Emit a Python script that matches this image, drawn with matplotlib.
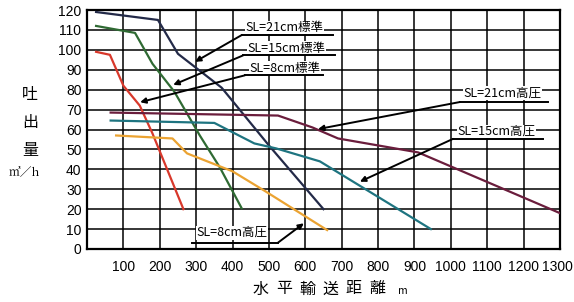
# -*- coding: utf-8 -*-
"""
水平輸送距離と吐出量の関係（SL別・標準／高圧）
"""
import matplotlib
matplotlib.use('Agg')
import matplotlib.pyplot as plt
import matplotlib.transforms as mtransforms

plt.rcParams['font.family'] = ['Noto Sans CJK JP', 'DejaVu Sans']

# 水平輸送距離 m と 吐出量 m3/h
std21_x = [25, 195, 250, 370, 500, 650]
std21_y = [119, 115, 98, 81, 52, 20]
std15_x = [25, 132, 180, 240, 310, 365, 425]
std15_y = [112, 108.5, 93, 79, 57, 41, 20.5]
std8_x = [25, 63, 100, 145, 180, 265]
std8_y = [99, 97.5, 82, 72, 58, 20]
hp21_x = [65, 525, 620, 690, 910, 1300]
hp21_y = [68.5, 67, 61, 55.5, 48.5, 18]
hp15_x = [65, 350, 460, 520, 640, 945]
hp15_y = [64.5, 63.3, 53, 50.5, 44, 10]
hp8_x = [80, 235, 275, 400, 490, 660]
hp8_y = [57, 55.5, 48, 39, 29, 9.5]

x_ticks = list(range(100, 1301, 100))
y_ticks = list(range(0, 121, 10))

series = [
    (std21_x, std21_y, '#232a48'),
    (std15_x, std15_y, '#2f6a33'),
    (std8_x, std8_y, '#d8382b'),
    (hp21_x, hp21_y, '#6a1d3c'),
    (hp15_x, hp15_y, '#1e7480'),
    (hp8_x, hp8_y, '#eba332'),
]

# ラベル: 文字, 文字位置, 下線(x0, x1, y), 矢印先
labels = [
    ('SL=21cm標準', (436, 111.2), (426, 676, 107.5), (297, 94)),
    ('SL=15cm標準', (442, 100.8), (429, 681, 97.2), (237, 82.4)),
    ('SL=8cm標準', (447, 90.8), (434, 648, 87.2), (146, 73.7)),
    ('SL=21cm高圧', (1035, 78.4), (1025, 1266, 73.8), (635, 60.2)),
    ('SL=15cm高圧', (1018, 59.0), (1006, 1253, 55.3), (750, 33.8)),
]

fig = plt.figure(figsize=(5.74, 3.02), dpi=100)
ax = fig.add_axes([87 / 574, 1 - 249 / 302, 473 / 574, 239 / 302])

for xs, ys, c in series:
    ax.plot(xs, ys, color=c, lw=1.6, zorder=3, solid_joinstyle='round')

ax.set_xlim(0, 1300)
ax.set_ylim(0, 120)
ax.set_xticks(x_ticks)
ax.set_yticks(y_ticks)
ax.grid(True, color='black', lw=1.1, zorder=1)
ax.set_axisbelow(True)
for s in ax.spines.values():
    s.set_linewidth(1.6)
ax.tick_params(length=0)
ax.tick_params(axis='x', pad=8)
ax.tick_params(axis='y', pad=4)
for t in ax.get_xticklabels() + ax.get_yticklabels():
    t.set_family('Liberation Sans')
    t.set_fontsize(10)
# 右端の 1300 が切れないよう少し左へ
last = ax.get_xticklabels()[-1]
last.set_transform(last.get_transform() +
                   mtransforms.ScaledTranslation(-3 / 100, 0, fig.dpi_scale_trans))

for text, (tx, ty), (u0, u1, uy), (hx, hy) in labels:
    ax.plot([u0, u1], [uy, uy], color='black', lw=1.4, zorder=7)
    ax.annotate('', xy=(hx, hy), xytext=(u0, uy),
                arrowprops=dict(arrowstyle='-|>', color='black', lw=1.4,
                                mutation_scale=8, shrinkA=0, shrinkB=0),
                zorder=5)
    ax.text(tx, ty, text, fontsize=9, va='center', ha='left', zorder=6,
            bbox=dict(facecolor='white', edgecolor='none', pad=0.3))

# SL=8cm高圧 は折れ線の矢印
ax.plot([288, 525], [3.2, 3.2], color='black', lw=1.4, zorder=7)
ax.annotate('', xy=(596, 12.9), xytext=(525, 3.2),
            arrowprops=dict(arrowstyle='-|>', color='black', lw=1.4,
                            mutation_scale=8, shrinkA=0, shrinkB=0),
            zorder=5)
ax.text(300, 8.2, 'SL=8cm高圧', fontsize=9, va='center', ha='left', zorder=6,
        bbox=dict(facecolor='white', edgecolor='none', pad=0.3))

# 縦軸ラベル
for ch, py in zip('吐出量', [94, 123, 150]):
    fig.text(30 / 574, 1 - py / 302, ch, fontsize=11.5, ha='center', va='center')
fig.text(24 / 574, 1 - 173 / 302, '㎥／h', fontsize=8.5, ha='center', va='center',
         family=['Noto Serif CJK JP', 'Noto Sans CJK JP', 'DejaVu Sans'])

# 横軸ラベル（字間を空けて配置）
for i, ch in enumerate('水平輸送距離'):
    fig.text((261 + 23.2 * i) / 574, 1 - 289 / 302, ch, fontsize=11.5,
             ha='center', va='center')
fig.text(403 / 574, 1 - 291 / 302, 'm', fontsize=7.5, ha='center', va='center')

fig.savefig('out.png', dpi=100, facecolor='white')
